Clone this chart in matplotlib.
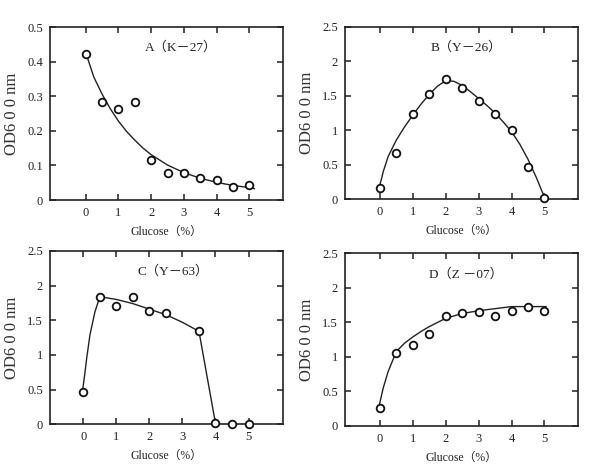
import matplotlib
matplotlib.use("Agg")
import matplotlib.pyplot as plt

plt.rcParams['font.family'] = ['Liberation Serif', 'Noto Sans CJK JP', 'DejaVu Sans']

# ---- data ----
glucose = [0, 0.5, 1, 1.5, 2, 2.5, 3, 3.5, 4, 4.5, 5]
glucose_c = [0, 0.5, 1, 1.5, 2, 2.5, 3.5, 4, 4.5, 5]

od_a = [0.423, 0.284, 0.262, 0.282, 0.115, 0.079, 0.079, 0.064, 0.057, 0.038, 0.043]
od_b = [0.16, 0.67, 1.24, 1.53, 1.74, 1.61, 1.42, 1.24, 1.01, 0.47, 0.02]
od_c = [0.46, 1.83, 1.71, 1.83, 1.64, 1.60, 1.34, 0.02, 0.01, 0.01]
od_d = [0.26, 1.06, 1.17, 1.33, 1.60, 1.63, 1.65, 1.59, 1.67, 1.72, 1.66]

# fitted curves
curve_a_x = [0.05, 0.25, 0.5, 0.75, 1.0, 1.25, 1.5, 1.75, 2.0, 2.5, 3.0, 3.5, 4.0, 4.5, 5.0, 5.15]
curve_a_y = [0.412, 0.355, 0.306, 0.264, 0.228, 0.198, 0.173, 0.150, 0.131, 0.101, 0.079, 0.063, 0.051, 0.042, 0.036, 0.033]

curve_b_x = [-0.02, 0.05, 0.1, 0.25, 0.5, 0.75, 1.0, 1.25, 1.5, 1.75, 2.0, 2.25, 2.5, 2.75, 3.0, 3.25, 3.5, 3.75, 4.0, 4.25, 4.5, 4.75, 5.0]
curve_b_y = [0.18, 0.30, 0.40, 0.62, 0.86, 1.05, 1.22, 1.38, 1.52, 1.64, 1.72, 1.71, 1.65, 1.56, 1.46, 1.36, 1.25, 1.12, 0.98, 0.80, 0.58, 0.32, 0.03]

curve_c_x = [-0.02, 0.05, 0.1, 0.2, 0.35, 0.5, 1.0, 1.5, 2.0, 2.5, 3.0, 3.5, 4.0]
curve_c_y = [0.50, 0.75, 0.95, 1.29, 1.62, 1.84, 1.80, 1.74, 1.66, 1.58, 1.47, 1.34, 0.01]

curve_d_x = [-0.02, 0.1, 0.25, 0.5, 0.75, 1.0, 1.25, 1.5, 2.0, 2.5, 3.0, 3.5, 4.0, 4.5, 5.05]
curve_d_y = [0.30, 0.55, 0.79, 1.08, 1.20, 1.29, 1.37, 1.44, 1.56, 1.63, 1.67, 1.70, 1.73, 1.73, 1.73]

titles = ['A（K－27）', 'B（Y－26）', 'C（Y－63）', 'D（Z －07）']
xticks = [0, 1, 2, 3, 4, 5]
yticks_a = [0, 0.1, 0.2, 0.3, 0.4, 0.5]
ytick_labels_a = ['0', '0.1', '0.2', '0.3', '0.4', '0.5']
yticks_b = [0, 0.5, 1, 1.5, 2, 2.5]
ytick_labels_b = ['0', '0.5', '1', '1.5', '2', '2.5']
xlabel = 'Glucose（%）'
ylabel = 'OD6 0 0 nm'

fig = plt.figure(figsize=(5.98, 4.74), dpi=100)

panels = [
    dict(pos=[0.0836, 0.578, 0.390, 0.365], x=glucose, y=od_a, cx=curve_a_x, cy=curve_a_y,
         ylim=(0, 0.5), yt=yticks_a, ytl=ytick_labels_a, xlim=(-1.09, 6.03), title=titles[0], tx=0.56),
    dict(pos=[0.577, 0.5795, 0.389, 0.364], x=glucose, y=od_b, cx=curve_b_x, cy=curve_b_y,
         ylim=(0, 2.5), yt=yticks_b, ytl=ytick_labels_b, xlim=(-1.06, 6.01), title=titles[1], tx=0.52),
    dict(pos=[0.0836, 0.105, 0.390, 0.3656], x=glucose_c, y=od_c, cx=curve_c_x, cy=curve_c_y,
         ylim=(0, 2.5), yt=yticks_b, ytl=ytick_labels_b, xlim=(-1.01, 6.05), title=titles[2], tx=0.53),
    dict(pos=[0.577, 0.1013, 0.389, 0.364], x=glucose, y=od_d, cx=curve_d_x, cy=curve_d_y,
         ylim=(0, 2.5), yt=yticks_b, ytl=ytick_labels_b, xlim=(-1.06, 6.01), title=titles[3], tx=0.52),
]

for p in panels:
    ax = fig.add_axes(p['pos'])
    ax.plot(p['cx'], p['cy'], color='#222222', lw=1.0, zorder=2)
    ax.plot(p['x'], p['y'], linestyle='none', marker='o', ms=5.5, mfc='white',
            mec='#111111', mew=1.3, zorder=3, clip_on=False)
    ax.set_xlim(*p['xlim'])
    ax.set_ylim(*p['ylim'])
    ax.set_xticks(xticks)
    ax.set_xticklabels([str(t) for t in xticks])
    ax.set_yticks(p['yt'])
    ax.set_yticklabels(p['ytl'])
    ax.tick_params(direction='in', length=4, width=1.1, top=True, right=True,
                   labelsize=9, colors='#222222', pad=5)
    for s in ax.spines.values():
        s.set_linewidth(1.2)
        s.set_color('#222222')
    ax.set_xlabel(xlabel, fontsize=8.5, color='#222222', labelpad=5)
    ax.set_ylabel(ylabel, fontsize=12, color='#333333', labelpad=5)
    ax.text(p['tx'], 0.88, p['title'], transform=ax.transAxes, ha='center', va='center',
            fontsize=9.5, color='#222222')

fig.savefig('out.png', dpi=100, facecolor='white')
